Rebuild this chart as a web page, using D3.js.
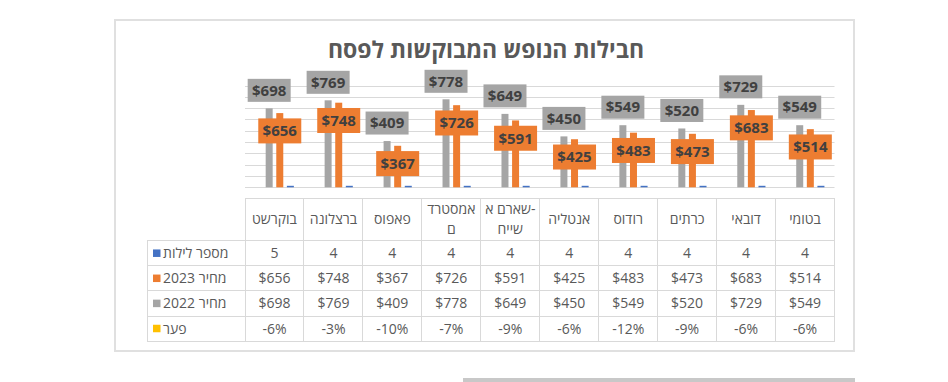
<!DOCTYPE html>
<html><head><meta charset="utf-8">
<script src="https://cdn.jsdelivr.net/npm/d3@7"></script>
<style>
html,body{margin:0;padding:0;background:#fff;}
svg{display:block;}
text{font-family:"Open Sans","Liberation Sans","DejaVu Sans",sans-serif;}
</style></head>
<body>
<svg id="c" width="948" height="382"></svg>
<script>
// Data (logical order, right-to-left on screen)
const categories = ["בטומי","דובאי","כרתים","רודוס","אנטליה","שארם א-שייח","אמסטרדם","פאפוס","ברצלונה","בוקרשט"];
const headerLines = [["בטומי"],["דובאי"],["כרתים"],["רודוס"],["אנטליה"],["שארם א-","שייח"],["אמסטרד","ם"],["פאפוס"],["ברצלונה"],["בוקרשט"]];
const nights = [4,4,4,4,4,4,4,4,4,5];
const price2023 = [514,683,473,483,425,591,726,367,748,656];
const price2022 = [549,729,520,549,450,649,778,409,769,698];
const gap = [-6,-6,-9,-12,-6,-9,-7,-10,-3,-6];
const seriesNames = ["מספר לילות","מחיר 2023","מחיר 2022","פער"];
const seriesColors = ["#4472c4","#ed7d31","#a5a5a5","#ffc000"];
const yTicks = [0,100,200,300,400,500,600,700,800,900];
const title = "חבילות הנופש המבוקשות לפסח";

const svg = d3.select("#c");
const grid = "#d9d9d9", txt = "#595959", lbl = "#404040";

// frame
svg.append("rect").attr("x",115).attr("y",20).attr("width",739).attr("height",331)
  .attr("fill","#fff").attr("stroke","#e0e0e0").attr("stroke-width",2);
svg.append("rect").attr("x",463).attr("y",378).attr("width",392).attr("height",4).attr("fill","#c8c8c8");

svg.append("text").attr("x",486).attr("y",58).attr("text-anchor","middle")
  .attr("font-size",23).attr("font-weight","bold").attr("fill",txt).text(title);

const left = 245, right = 834.5, plotTop = 85.5, plotBottom = 187.3;
const x0 = d3.scaleBand().domain(categories).range([right,left]).paddingInner(0).paddingOuter(0);
const groupW = 42.4;
const gOff = (x0.bandwidth()-groupW)/2;
// series order left->right inside group (reversed axis)
const x1 = d3.scaleBand().domain(["פער","מחיר 2022","מחיר 2023","מספר לילות"]).range([0,groupW]).paddingInner(0.34).paddingOuter(0.17);
const y = d3.scaleLinear().domain([0,900]).range([plotBottom,plotTop]);

// gridlines
svg.append("g").selectAll("line").data(yTicks.slice(1)).join("line")
  .attr("x1",left).attr("x2",right).attr("y1",d=>Math.round(y(d))+0.5).attr("y2",d=>Math.round(y(d))+0.5)
  .attr("stroke",grid).attr("stroke-width",1);
svg.append("line").attr("x1",left).attr("x2",right).attr("y1",Math.round(plotBottom)+0.5).attr("y2",Math.round(plotBottom)+0.5)
  .attr("stroke",grid);

const rows = categories.map((c,i)=>({c,i,n:nights[i],p23:price2023[i],p22:price2022[i],g:gap[i]}));
const bx = (d,s)=> x0(d.c)+gOff+x1(s);
const bw = x1.bandwidth();

// gray bars
svg.append("g").selectAll("rect").data(rows).join("rect")
  .attr("x",d=>bx(d,"מחיר 2022")).attr("width",bw)
  .attr("y",d=>y(d.p22)).attr("height",d=>y(0)-y(d.p22)).attr("fill",seriesColors[2]);
// orange bars
svg.append("g").selectAll("rect").data(rows).join("rect")
  .attr("x",d=>bx(d,"מחיר 2023")).attr("width",bw)
  .attr("y",d=>y(d.p23)).attr("height",d=>y(0)-y(d.p23)).attr("fill",seriesColors[1]);
// blue bars
svg.append("g").selectAll("rect").data(rows).join("rect")
  .attr("x",d=>bx(d,"מספר לילות")).attr("width",bw)
  .attr("y",d=>Math.min(y(d.n), y(0)-1.5)).attr("height",d=>Math.max(y(0)-y(d.n),1.5)).attr("fill",seriesColors[0]);
// yellow (gap, negligible)
svg.append("g").selectAll("rect").data(rows).join("rect")
  .attr("x",d=>bx(d,"פער")).attr("width",bw)
  .attr("y",y(0)).attr("height",0).attr("fill",seriesColors[3]);

// gray labels
const lw = 43;
const gl = svg.append("g").selectAll("g").data(rows).join("g")
  .attr("transform",d=>`translate(${bx(d,"מחיר 2022")+bw/2},${y(d.p22)-6.5})`);
gl.append("rect").attr("x",-lw/2).attr("y",-23).attr("width",lw).attr("height",23).attr("fill",seriesColors[2]);
gl.append("text").attr("text-anchor","middle").attr("y",-6.3).attr("font-size",15).attr("font-weight","bold")
  .attr("fill",lbl).text(d=>"$"+d.p22);
// orange labels
const ol = svg.append("g").selectAll("g").data(rows).join("g")
  .attr("transform",d=>`translate(${bx(d,"מחיר 2023")+bw/2},${y(d.p23)+5.3})`);
ol.append("rect").attr("x",-lw/2).attr("y",0).attr("width",lw).attr("height",25).attr("fill",seriesColors[1]);
ol.append("text").attr("text-anchor","middle").attr("y",17.8).attr("font-size",15).attr("font-weight","bold")
  .attr("fill",lbl).text(d=>"$"+d.p23);

// data table
const tTop = 198, hBot = 240.7, rowH = 25.1, legL = 147;
const tb = svg.append("g").attr("stroke",grid).attr("stroke-width",1).attr("shape-rendering","crispEdges");
tb.append("line").attr("x1",left).attr("x2",right).attr("y1",tTop).attr("y2",tTop);
for(let r=0;r<=4;r++){
  const yy = hBot + r*rowH;
  tb.append("line").attr("x1",legL).attr("x2",right).attr("y1",yy).attr("y2",yy);
}
const bounds = categories.map(c=>x0(c)).concat([right]);
tb.selectAll("line.v").data(bounds).join("line").attr("class","v")
  .attr("x1",d=>d).attr("x2",d=>d).attr("y1",tTop).attr("y2",hBot+4*rowH);
tb.append("line").attr("x1",legL).attr("x2",legL).attr("y1",hBot).attr("y2",hBot+4*rowH);

// header labels (a trailing hyphen is drawn on the right, as in the source)
const hg = svg.append("g");
rows.forEach(d=>{
  const lines = headerLines[d.i];
  const cx = x0(d.c)+x0.bandwidth()/2;
  const cy = (tTop+hBot)/2;
  const lh = 20;
  lines.forEach((l,k)=>{
    const yy = cy + (k-(lines.length-1)/2)*lh + 5;
    if(l.endsWith("-")){
      const main = hg.append("text").attr("font-size",14).attr("fill",txt).attr("y",yy).text(l.slice(0,-1));
      const hy = hg.append("text").attr("font-size",14).attr("fill",txt).attr("y",yy).text("-");
      const w1 = main.node().getComputedTextLength(), w2 = hy.node().getComputedTextLength();
      const x = cx - (w1+w2)/2;
      main.attr("x",x); hy.attr("x",x+w1);
    } else {
      hg.append("text").attr("font-size",14).attr("fill",txt).attr("text-anchor","middle")
        .attr("x",cx).attr("y",yy).text(l);
    }
  });
});

// value rows
const rowVals = [nights.map(String), price2023.map(v=>"$"+v), price2022.map(v=>"$"+v), gap.map(v=>v+"%")];
rowVals.forEach((vals,r)=>{
  svg.append("g").selectAll("text").data(categories).join("text")
    .attr("x",c=>x0(c)+x0.bandwidth()/2).attr("y",hBot+r*rowH+rowH/2+5)
    .attr("text-anchor","middle").attr("font-size",14).attr("fill",txt)
    .text((c,i)=>vals[i]);
  svg.append("rect").attr("x",153).attr("y",hBot+r*rowH+rowH/2-3.8).attr("width",7.5).attr("height",7.5)
    .attr("fill",seriesColors[r]);
  svg.append("text").attr("x",163).attr("y",hBot+r*rowH+rowH/2+5)
    .attr("font-size",14).attr("fill",txt).text(seriesNames[r]);
});
</script>
</body></html>
